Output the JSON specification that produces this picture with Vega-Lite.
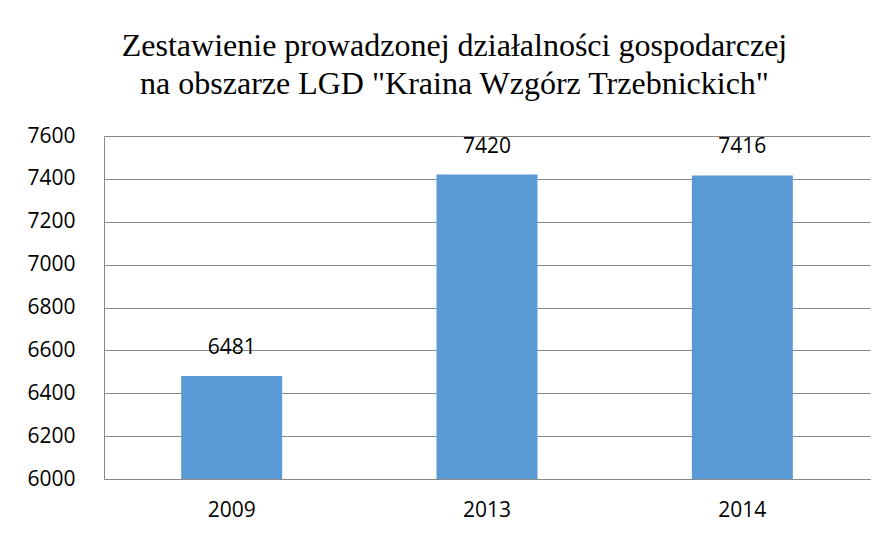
{
  "$schema": "https://vega.github.io/schema/vega-lite/v6.json",
  "width": 766,
  "height": 343,
  "padding": {"left": 26, "top": 30, "right": 18, "bottom": 10},
  "background": "white",
  "title": {
    "text": ["Zestawienie prowadzonej działalności gospodarczej", "na obszarze LGD \"Kraina Wzgórz Trzebnickich\""],
    "font": "Liberation Serif",
    "fontSize": 32,
    "fontWeight": "normal",
    "color": "#000000",
    "lineHeight": 38,
    "anchor": "middle",
    "frame": "bounds",
    "dx": 6,
    "offset": 24
  },
  "data": {
    "values": [
      {"rok": "2009", "wartosc": 6481},
      {"rok": "2013", "wartosc": 7420},
      {"rok": "2014", "wartosc": 7416}
    ]
  },
  "encoding": {
    "x": {
      "field": "rok",
      "type": "nominal",
      "scale": {"paddingInner": 0, "paddingOuter": 0},
      "axis": {
        "title": null,
        "labelAngle": 0,
        "labelFont": "Open Sans",
        "labelFontSize": 21,
        "labelColor": "#000000",
        "labelPadding": 20,
        "ticks": false,
        "domainColor": "#888888",
        "grid": false
      }
    },
    "y": {
      "field": "wartosc",
      "type": "quantitative",
      "scale": {"domain": [6000, 7600], "zero": false},
      "axis": {
        "title": null,
        "values": [6000, 6200, 6400, 6600, 6800, 7000, 7200, 7400, 7600],
        "format": "d",
        "labelFont": "Open Sans",
        "labelFontSize": 21,
        "labelColor": "#000000",
        "labelPadding": 29,
        "ticks": false,
        "domainColor": "#888888",
        "gridColor": "#888888",
        "gridWidth": 1
      }
    }
  },
  "layer": [
    {
      "mark": {"type": "bar", "color": "#5B9BD5", "size": 101},
      "encoding": {"y2": {"datum": 6000}}
    },
    {
      "mark": {"type": "text", "font": "Open Sans", "fontSize": 21, "color": "#000000", "dy": -28},
      "encoding": {"text": {"field": "wartosc", "type": "quantitative", "format": "d"}}
    }
  ],
  "config": {"view": {"stroke": null}}
}
